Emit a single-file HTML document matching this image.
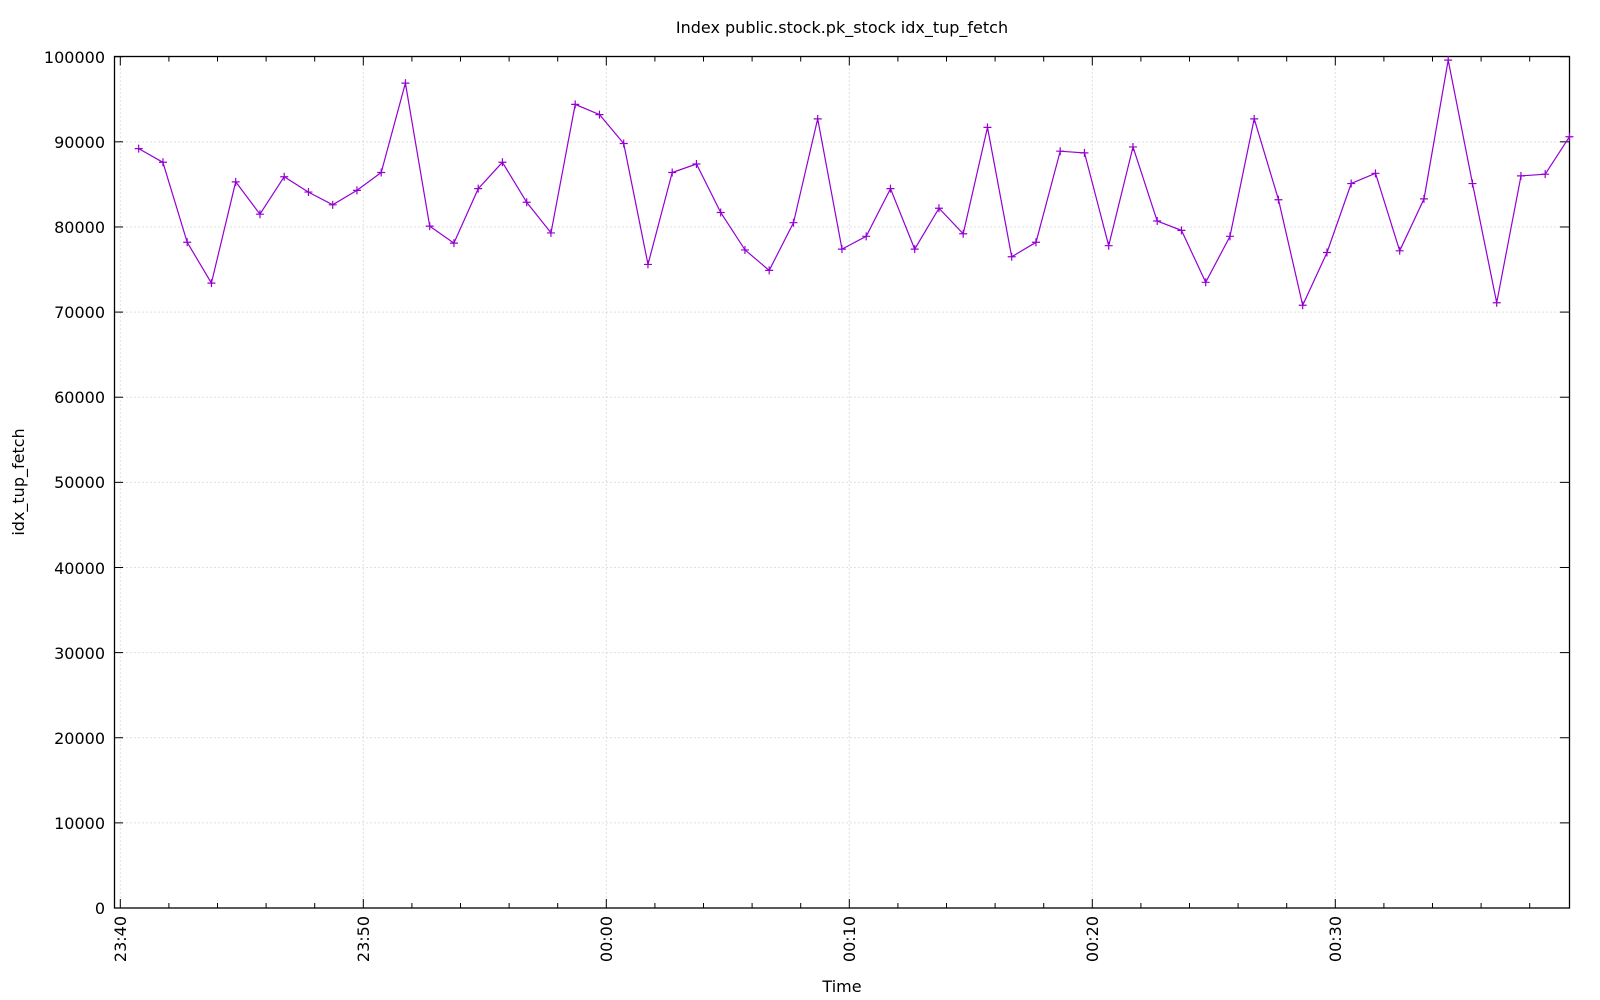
<!DOCTYPE html>
<html><head><meta charset="utf-8"><style>
html,body{margin:0;padding:0;background:#fff;}
svg{display:block;font-family:"DejaVu Sans","Liberation Sans",sans-serif;}
</style></head><body>
<svg id="s" width="1600" height="1000" viewBox="0 0 1600 1000" xmlns="http://www.w3.org/2000/svg">
<rect width="1600" height="1000" fill="#fff"/>
<g id="grid" stroke="#c0c0c0" stroke-width="1" stroke-dasharray="1,3"></g>
<g id="ticks" stroke="#000" stroke-width="1"></g>
<rect x="114.5" y="56.5" width="1455" height="851.5" fill="none" stroke="#000" stroke-width="1.3"/>
<text x="842" y="33" font-size="16" text-anchor="middle">Index public.stock.pk_stock idx_tup_fetch</text>
<g font-size="16" text-anchor="end">
<text x="105" y="914">0</text>
<text x="105" y="829">10000</text>
<text x="105" y="744">20000</text>
<text x="105" y="659">30000</text>
<text x="105" y="574">40000</text>
<text x="105" y="488">50000</text>
<text x="105" y="403">60000</text>
<text x="105" y="318">70000</text>
<text x="105" y="233">80000</text>
<text x="105" y="148">90000</text>
<text x="105" y="63">100000</text>
</g>
<g font-size="16" text-anchor="end">
<text transform="translate(126,916) rotate(-90)">23:40</text>
<text transform="translate(369,916) rotate(-90)">23:50</text>
<text transform="translate(612,916) rotate(-90)">00:00</text>
<text transform="translate(855,916) rotate(-90)">00:10</text>
<text transform="translate(1098,916) rotate(-90)">00:20</text>
<text transform="translate(1341,916) rotate(-90)">00:30</text>
</g>
<text x="842" y="992" font-size="16" text-anchor="middle">Time</text>
<text transform="translate(24,482) rotate(-90)" font-size="16" text-anchor="middle">idx_tup_fetch</text>
<g id="series"></g>
</svg>
<script>
var ns="http://www.w3.org/2000/svg";
function el(p,t,a){var e=document.createElementNS(ns,t);for(var k in a)e.setAttribute(k,a[k]);p.appendChild(e);return e;}
var g=document.getElementById('grid'),tk=document.getElementById('ticks'),se=document.getElementById('series');
function Y(v){return 908-v*0.008513;}
for(var i=1;i<=10;i++){var y=Y(i*10000);el(g,'line',{x1:114.5,x2:1569,y1:y,y2:y});}
for(var i=0;i<=10;i++){var y=Y(i*10000);el(tk,'line',{x1:114.5,x2:123,y1:y,y2:y});el(tk,'line',{x1:1560,x2:1569,y1:y,y2:y});}
for(var m=0;m<=58;m+=2){var x=120.3+m*24.3;var maj=(m%10==0);
 if(maj)el(g,'line',{x1:x,x2:x,y1:56.5,y2:908});
 var L=maj?9:5;el(tk,'line',{x1:x,x2:x,y1:908,y2:908-L});el(tk,'line',{x1:x,x2:x,y1:56.5,y2:56.5+L});}
var d=[89200,87600,78200,73400,85300,81500,85900,84100,82600,84300,86400,96900,80100,78100,84500,87600,82900,79300,94400,93200,89800,75600,86400,87400,81700,77300,74900,80500,92700,77400,78900,84500,77400,82200,79200,91700,76500,78200,88900,88700,77800,89400,80700,79600,73500,78900,92700,83200,70800,77000,85100,86300,77200,83300,99600,85100,71100,86000,86200,90600];
var pts=[];for(var i=0;i<d.length;i++){var x=138.7+i*24.25,y=Y(d[i]);pts.push(x.toFixed(1)+','+y.toFixed(1));
 el(se,'path',{d:'M'+(x-4)+' '+y+'h8M'+x+' '+(y-4)+'v8',stroke:'#9400d3','stroke-width':1.2});}
el(se,'polyline',{points:pts.join(' '),fill:'none',stroke:'#9400d3','stroke-width':1.2});
</script>
</body></html>
